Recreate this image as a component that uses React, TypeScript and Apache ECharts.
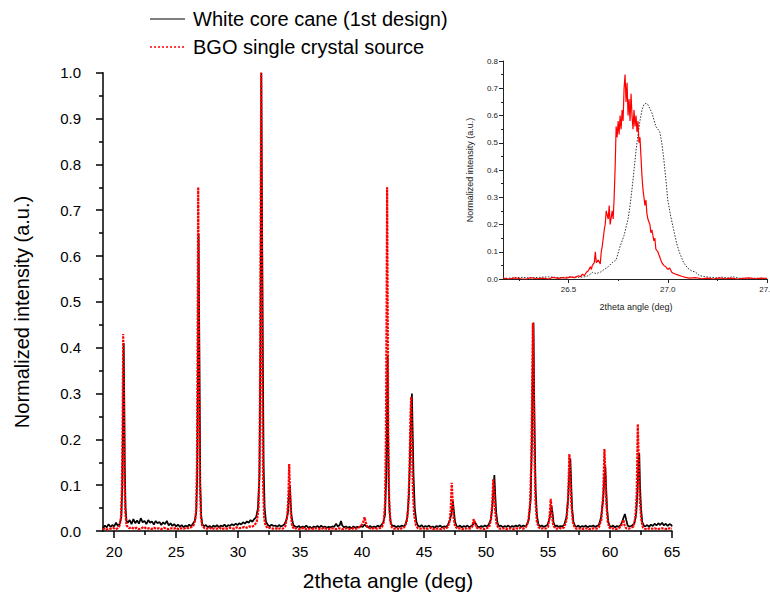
import React, { useEffect, useRef } from "react";
import * as echarts from "echarts";

const FONT = '"Liberation Sans", Arial, sans-serif';

const mainXTicks = [20, 25, 30, 35, 40, 45, 50, 55, 60, 65];
const mainXMinor = [22.5, 27.5, 32.5, 37.5, 42.5, 47.5, 52.5, 57.5, 62.5];
const insetXTicks = [26.5, 27.0, 27.5];
const insetXMinor = [26.25, 26.75, 27.25];

const legendLabels = ["White core cane (1st design)", "BGO single crystal source"];

const mainBlack: [number, number][] = [
  [19.1, 0.006], [19.25, 0.012], [19.4, 0.008], [19.55, 0.015], [19.7, 0.009], [19.85, 0.013], [20.0, 0.01], [20.15, 0.018], [20.3, 0.011], [20.45, 0.016], [20.58, 0.03],
  [20.66, 0.1], [20.72, 0.25], [20.77, 0.41], [20.82, 0.28], [20.86, 0.14], [20.92, 0.05], [21.0, 0.022],
  [21.1, 0.018], [21.25, 0.024], [21.4, 0.015], [21.55, 0.026], [21.7, 0.017], [21.85, 0.023], [22.0, 0.016], [22.15, 0.028], [22.3, 0.019], [22.45, 0.022], [22.6, 0.015], [22.75, 0.024], [22.9, 0.018], [23.05, 0.021], [23.2, 0.014], [23.35, 0.022], [23.5, 0.017], [23.65, 0.02], [23.8, 0.013], [23.95, 0.019], [24.1, 0.015], [24.25, 0.022], [24.4, 0.012], [24.55, 0.017], [24.7, 0.011], [24.85, 0.015], [25.0, 0.01], [25.15, 0.014], [25.3, 0.009], [25.45, 0.013], [25.6, 0.008], [25.75, 0.012], [25.9, 0.009], [26.05, 0.014], [26.2, 0.01], [26.35, 0.016], [26.5, 0.022], [26.62, 0.04],
  [26.7, 0.12], [26.76, 0.35], [26.81, 0.648], [26.85, 0.5], [26.9, 0.3], [26.95, 0.1], [27.02, 0.035], [27.1, 0.016],
  [27.25, 0.01], [27.4, 0.013], [27.55, 0.008], [27.7, 0.011], [27.85, 0.007], [28.0, 0.012], [28.15, 0.009], [28.3, 0.013], [28.45, 0.008], [28.6, 0.012], [28.75, 0.01], [28.9, 0.014], [29.05, 0.009], [29.2, 0.013], [29.35, 0.011], [29.5, 0.015], [29.65, 0.012], [29.8, 0.016], [29.95, 0.013], [30.1, 0.017], [30.25, 0.014], [30.4, 0.019], [30.55, 0.016], [30.7, 0.021], [30.85, 0.018], [31.0, 0.024], [31.15, 0.02], [31.3, 0.026], [31.45, 0.03], [31.6, 0.05],
  [31.72, 0.12], [31.8, 0.4], [31.87, 1.0], [31.94, 0.655], [32.0, 0.37], [32.06, 0.14], [32.14, 0.05], [32.25, 0.02],
  [32.4, 0.013], [32.55, 0.01], [32.7, 0.014], [32.85, 0.011], [33.0, 0.012], [33.15, 0.009], [33.3, 0.013], [33.45, 0.01], [33.6, 0.012], [33.75, 0.015], [33.9, 0.025],
  [34.02, 0.04], [34.1, 0.08], [34.18, 0.1], [34.24, 0.06], [34.32, 0.03], [34.45, 0.013],
  [34.6, 0.01], [34.75, 0.008], [34.9, 0.011], [35.05, 0.007], [35.2, 0.01], [35.35, 0.008], [35.5, 0.012], [35.65, 0.007], [35.8, 0.009], [35.95, 0.006], [36.1, 0.01], [36.25, 0.008], [36.4, 0.011], [36.55, 0.007], [36.7, 0.012], [36.85, 0.008], [37.0, 0.01], [37.15, 0.007], [37.3, 0.009], [37.45, 0.008], [37.6, 0.01], [37.75, 0.009], [37.9, 0.016], [38.05, 0.01], [38.2, 0.013], [38.3, 0.022], [38.4, 0.012], [38.55, 0.008], [38.7, 0.01], [38.85, 0.007], [39.0, 0.009], [39.15, 0.006], [39.3, 0.01], [39.45, 0.007], [39.6, 0.009], [39.75, 0.008], [39.9, 0.011], [40.05, 0.009], [40.2, 0.014], [40.35, 0.01], [40.5, 0.008], [40.65, 0.011], [40.8, 0.007], [40.95, 0.01], [41.1, 0.008], [41.25, 0.012], [41.4, 0.009], [41.55, 0.013], [41.7, 0.018], [41.85, 0.035],
  [41.95, 0.12], [42.01, 0.25], [42.06, 0.384], [42.1, 0.22], [42.15, 0.1], [42.22, 0.04], [42.32, 0.018],
  [42.45, 0.01], [42.6, 0.012], [42.75, 0.008], [42.9, 0.011], [43.05, 0.009], [43.2, 0.012], [43.35, 0.01], [43.5, 0.014], [43.65, 0.03],
  [43.78, 0.08], [43.88, 0.18], [43.96, 0.26], [44.02, 0.3], [44.08, 0.22], [44.15, 0.12], [44.25, 0.05], [44.38, 0.02],
  [44.5, 0.012], [44.65, 0.009], [44.8, 0.013], [44.95, 0.008], [45.1, 0.011], [45.25, 0.009], [45.4, 0.012], [45.55, 0.008], [45.7, 0.01], [45.85, 0.007], [46.0, 0.011], [46.15, 0.009], [46.3, 0.012], [46.45, 0.008], [46.6, 0.01], [46.75, 0.009], [46.9, 0.012], [47.1, 0.025],
  [47.22, 0.04], [47.33, 0.065], [47.4, 0.045], [47.5, 0.02], [47.62, 0.011],
  [47.75, 0.009], [47.9, 0.012], [48.05, 0.008], [48.2, 0.011], [48.35, 0.009], [48.5, 0.012], [48.65, 0.008], [48.8, 0.011], [48.95, 0.014], [49.07, 0.02], [49.18, 0.016], [49.3, 0.01], [49.45, 0.008], [49.6, 0.011], [49.75, 0.009], [49.9, 0.012], [50.05, 0.01], [50.2, 0.013], [50.38, 0.025],
  [50.5, 0.05], [50.6, 0.09], [50.67, 0.122], [50.74, 0.08], [50.82, 0.04], [50.92, 0.018],
  [51.05, 0.01], [51.2, 0.012], [51.35, 0.008], [51.5, 0.011], [51.65, 0.009], [51.8, 0.012], [51.95, 0.008], [52.1, 0.011], [52.25, 0.009], [52.4, 0.012], [52.55, 0.01], [52.7, 0.013], [52.85, 0.009], [53.0, 0.012], [53.15, 0.01], [53.3, 0.014], [53.45, 0.025],
  [53.6, 0.07], [53.7, 0.2], [53.78, 0.4], [53.83, 0.455], [53.88, 0.3], [53.93, 0.2], [54.0, 0.09], [54.1, 0.035], [54.22, 0.015],
  [54.35, 0.01], [54.5, 0.012], [54.65, 0.009], [54.8, 0.011], [54.95, 0.013], [55.1, 0.025], [55.2, 0.04], [55.28, 0.055], [55.36, 0.04], [55.45, 0.018], [55.58, 0.01],
  [55.7, 0.012], [55.85, 0.009], [56.0, 0.011], [56.15, 0.01], [56.3, 0.013], [56.48, 0.03],
  [56.62, 0.07], [56.72, 0.13], [56.8, 0.158], [56.86, 0.11], [56.94, 0.05], [57.05, 0.02], [57.18, 0.011],
  [57.3, 0.009], [57.45, 0.012], [57.6, 0.008], [57.75, 0.011], [57.9, 0.009], [58.05, 0.012], [58.2, 0.008], [58.35, 0.011], [58.5, 0.01], [58.65, 0.012], [58.8, 0.009], [58.95, 0.011], [59.1, 0.013], [59.28, 0.03],
  [59.45, 0.07], [59.55, 0.12], [59.62, 0.14], [59.68, 0.1], [59.76, 0.05], [59.86, 0.02], [59.98, 0.011],
  [60.1, 0.009], [60.25, 0.012], [60.4, 0.008], [60.55, 0.011], [60.7, 0.009], [60.85, 0.013], [60.98, 0.02], [61.1, 0.03], [61.2, 0.037], [61.3, 0.025], [61.42, 0.012], [61.55, 0.01],
  [61.7, 0.011], [61.85, 0.013], [62.0, 0.02], [62.12, 0.04],
  [62.22, 0.09], [62.3, 0.15], [62.36, 0.17], [62.42, 0.1], [62.5, 0.05], [62.6, 0.02], [62.72, 0.012],
  [62.85, 0.01], [63.0, 0.013], [63.15, 0.009], [63.3, 0.014], [63.45, 0.011], [63.6, 0.016], [63.75, 0.012], [63.9, 0.017], [64.05, 0.013], [64.2, 0.018], [64.35, 0.012], [64.5, 0.016], [64.65, 0.011], [64.8, 0.015], [64.95, 0.013], [65.0, 0.01],
];

const mainRed: [number, number][] = [
  [19.1, 0.004], [19.3, 0.006], [19.5, 0.003], [19.7, 0.005], [19.9, 0.007], [20.1, 0.004], [20.3, 0.006], [20.45, 0.012],
  [20.55, 0.03], [20.62, 0.09], [20.68, 0.22], [20.73, 0.43], [20.78, 0.3], [20.83, 0.12], [20.9, 0.04], [21.0, 0.012],
  [21.2, 0.006], [21.4, 0.008], [21.6, 0.005], [21.8, 0.007], [22.0, 0.004], [22.2, 0.006], [22.4, 0.009], [22.6, 0.005], [22.8, 0.006], [23.0, 0.004], [23.2, 0.007], [23.4, 0.005], [23.6, 0.006], [23.8, 0.004], [24.0, 0.007], [24.2, 0.005], [24.4, 0.004], [24.6, 0.006], [24.8, 0.005], [25.0, 0.007], [25.2, 0.004], [25.4, 0.006], [25.6, 0.005], [25.8, 0.007], [26.0, 0.006], [26.2, 0.008], [26.4, 0.012], [26.55, 0.025],
  [26.62, 0.05], [26.68, 0.15], [26.73, 0.4], [26.78, 0.75], [26.82, 0.55], [26.86, 0.3], [26.92, 0.1], [27.0, 0.03], [27.1, 0.012],
  [27.3, 0.006], [27.5, 0.005], [27.7, 0.007], [27.9, 0.004], [28.1, 0.006], [28.3, 0.005], [28.5, 0.007], [28.7, 0.004], [28.9, 0.006], [29.1, 0.005], [29.3, 0.007], [29.5, 0.006], [29.7, 0.005], [29.9, 0.008], [30.1, 0.006], [30.3, 0.007], [30.5, 0.009], [30.7, 0.007], [30.9, 0.01], [31.1, 0.009], [31.3, 0.012], [31.5, 0.02],
  [31.65, 0.05], [31.73, 0.15], [31.8, 0.5], [31.86, 1.0], [31.91, 0.7], [31.96, 0.3], [32.02, 0.1], [32.1, 0.03], [32.2, 0.012],
  [32.4, 0.006], [32.6, 0.007], [32.8, 0.005], [33.0, 0.006], [33.2, 0.004], [33.4, 0.006], [33.6, 0.005], [33.8, 0.01],
  [33.95, 0.03], [34.05, 0.07], [34.12, 0.146], [34.18, 0.09], [34.25, 0.04], [34.35, 0.012],
  [34.5, 0.005], [34.7, 0.006], [34.9, 0.004], [35.1, 0.005], [35.3, 0.007], [35.5, 0.004], [35.7, 0.005], [35.9, 0.006], [36.1, 0.004], [36.3, 0.006], [36.5, 0.005], [36.7, 0.004], [36.9, 0.007], [37.1, 0.005], [37.3, 0.004], [37.5, 0.006], [37.7, 0.005], [37.9, 0.004], [38.1, 0.006], [38.3, 0.005], [38.5, 0.004], [38.7, 0.006], [38.9, 0.005], [39.1, 0.004], [39.3, 0.006], [39.5, 0.005], [39.7, 0.007], [39.9, 0.01],
  [40.1, 0.02], [40.2, 0.03], [40.3, 0.018], [40.45, 0.008], [40.6, 0.006], [40.8, 0.005], [41.0, 0.007], [41.2, 0.005], [41.4, 0.006], [41.6, 0.008], [41.75, 0.02],
  [41.85, 0.06], [41.92, 0.2], [41.97, 0.45], [42.02, 0.75], [42.06, 0.5], [42.11, 0.22], [42.18, 0.07], [42.28, 0.02], [42.4, 0.008],
  [42.6, 0.005], [42.8, 0.006], [43.0, 0.004], [43.2, 0.006], [43.4, 0.008], [43.6, 0.02],
  [43.72, 0.05], [43.82, 0.13], [43.9, 0.25], [43.96, 0.293], [44.02, 0.2], [44.1, 0.09], [44.2, 0.035], [44.35, 0.012],
  [44.5, 0.006], [44.7, 0.005], [44.9, 0.006], [45.1, 0.004], [45.3, 0.005], [45.5, 0.007], [45.7, 0.004], [45.9, 0.006], [46.1, 0.005], [46.3, 0.004], [46.5, 0.006], [46.7, 0.005], [46.9, 0.008], [47.05, 0.02],
  [47.15, 0.045], [47.23, 0.105], [47.3, 0.07], [47.38, 0.03], [47.5, 0.01],
  [47.7, 0.005], [47.9, 0.006], [48.1, 0.004], [48.3, 0.005], [48.5, 0.006], [48.7, 0.005], [48.9, 0.01], [49.0, 0.026], [49.1, 0.018], [49.25, 0.007], [49.45, 0.005], [49.65, 0.006], [49.85, 0.004], [50.05, 0.006], [50.25, 0.008], [50.4, 0.025],
  [50.5, 0.06], [50.58, 0.113], [50.65, 0.09], [50.73, 0.045], [50.85, 0.015],
  [51.0, 0.006], [51.2, 0.005], [51.4, 0.006], [51.6, 0.004], [51.8, 0.005], [52.0, 0.006], [52.2, 0.004], [52.4, 0.006], [52.6, 0.005], [52.8, 0.007], [53.0, 0.005], [53.2, 0.008], [53.4, 0.02],
  [53.55, 0.06], [53.65, 0.15], [53.72, 0.32], [53.78, 0.454], [53.84, 0.35], [53.9, 0.18], [53.98, 0.07], [54.1, 0.02], [54.25, 0.008],
  [54.4, 0.005], [54.6, 0.006], [54.8, 0.005], [55.0, 0.009], [55.12, 0.03], [55.22, 0.07], [55.3, 0.04], [55.4, 0.015], [55.55, 0.006],
  [55.7, 0.005], [55.9, 0.007], [56.1, 0.005], [56.3, 0.008], [56.5, 0.025],
  [56.62, 0.07], [56.72, 0.168], [56.8, 0.12], [56.88, 0.06], [57.0, 0.02], [57.15, 0.007],
  [57.3, 0.005], [57.5, 0.006], [57.7, 0.004], [57.9, 0.005], [58.1, 0.006], [58.3, 0.004], [58.5, 0.005], [58.7, 0.006], [58.9, 0.005], [59.1, 0.008], [59.3, 0.025],
  [59.45, 0.08], [59.55, 0.179], [59.62, 0.13], [59.7, 0.06], [59.82, 0.02], [59.95, 0.007],
  [60.1, 0.005], [60.3, 0.006], [60.5, 0.004], [60.7, 0.006], [60.9, 0.01], [61.0, 0.02], [61.08, 0.024], [61.18, 0.012], [61.3, 0.006], [61.5, 0.005], [61.7, 0.007], [61.9, 0.01], [62.05, 0.03],
  [62.15, 0.08], [62.24, 0.233], [62.32, 0.15], [62.4, 0.07], [62.52, 0.025], [62.65, 0.008],
  [62.8, 0.005], [63.0, 0.004], [63.2, 0.006], [63.4, 0.005], [63.6, 0.006], [63.8, 0.004], [64.0, 0.005], [64.2, 0.006], [64.4, 0.005], [64.6, 0.004], [64.8, 0.006], [65.0, 0.005],
];

const insetRed: [number, number][] = [
  [26.17, 0.003], [26.2, 0.0], [26.23, 0.004], [26.26, 0.001], [26.29, 0.0], [26.31, 0.005], [26.34, 0.001], [26.37, 0.003], [26.4, 0.0], [26.42, 0.006], [26.45, 0.002], [26.47, 0.005], [26.49, 0.003], [26.51, 0.008], [26.53, 0.005], [26.55, 0.012], [26.56, 0.008], [26.57, 0.018], [26.58, 0.012], [26.59, 0.025], [26.6, 0.03], [26.61, 0.045], [26.615, 0.035], [26.62, 0.05], [26.63, 0.06], [26.635, 0.1], [26.64, 0.06], [26.65, 0.07], [26.66, 0.055], [26.665, 0.1], [26.67, 0.12], [26.68, 0.18], [26.685, 0.2], [26.69, 0.25], [26.7, 0.22], [26.705, 0.27], [26.71, 0.2], [26.72, 0.25], [26.725, 0.22], [26.73, 0.3], [26.735, 0.41], [26.74, 0.56], [26.745, 0.52], [26.75, 0.58], [26.755, 0.53], [26.76, 0.6], [26.765, 0.55], [26.77, 0.62], [26.775, 0.58], [26.78, 0.7], [26.785, 0.75], [26.79, 0.65], [26.795, 0.72], [26.8, 0.6], [26.805, 0.66], [26.81, 0.58], [26.815, 0.68], [26.82, 0.6], [26.825, 0.55], [26.83, 0.62], [26.835, 0.56], [26.84, 0.6], [26.845, 0.54], [26.85, 0.58], [26.855, 0.5], [26.86, 0.52], [26.865, 0.45], [26.87, 0.38], [26.875, 0.33], [26.88, 0.3], [26.885, 0.27], [26.89, 0.29], [26.895, 0.24], [26.9, 0.22], [26.91, 0.2], [26.915, 0.17], [26.92, 0.18], [26.93, 0.14], [26.935, 0.15], [26.94, 0.11], [26.95, 0.1], [26.96, 0.08], [26.97, 0.06], [26.98, 0.05], [26.99, 0.045], [27.0, 0.035], [27.01, 0.04], [27.02, 0.025], [27.03, 0.02], [27.05, 0.015], [27.07, 0.01], [27.09, 0.006], [27.11, 0.003], [27.14, 0.005], [27.17, 0.001], [27.2, 0.003], [27.23, 0.0], [27.26, 0.004], [27.29, 0.001], [27.32, 0.003], [27.35, 0.0], [27.38, 0.002], [27.41, 0.004], [27.44, 0.001], [27.47, 0.003], [27.5, 0.002],
];

const insetBlack: [number, number][] = [
  [26.17, 0.002], [26.22, 0.004], [26.27, 0.006], [26.3, 0.004], [26.35, 0.006], [26.4, 0.008], [26.45, 0.005], [26.5, 0.007], [26.55, 0.006], [26.58, 0.008], [26.6, 0.012], [26.62, 0.024], [26.64, 0.02], [26.66, 0.025], [26.68, 0.035], [26.7, 0.045], [26.72, 0.06], [26.74, 0.07], [26.76, 0.12], [26.78, 0.16], [26.8, 0.22], [26.81, 0.27], [26.82, 0.33], [26.83, 0.4], [26.84, 0.47], [26.85, 0.53], [26.86, 0.58], [26.87, 0.62], [26.88, 0.64], [26.89, 0.645], [26.9, 0.64], [26.91, 0.625], [26.92, 0.61], [26.93, 0.585], [26.94, 0.56], [26.95, 0.55], [26.96, 0.54], [26.97, 0.5], [26.98, 0.44], [26.99, 0.37], [27.0, 0.29], [27.015, 0.23], [27.03, 0.18], [27.045, 0.13], [27.06, 0.095], [27.08, 0.06], [27.1, 0.04], [27.12, 0.03], [27.14, 0.025], [27.16, 0.012], [27.19, 0.008], [27.22, 0.006], [27.25, 0.004], [27.27, 0.007], [27.3, 0.004], [27.33, 0.008], [27.36, 0.003], [27.4, 0.002], [27.44, 0.003], [27.5, 0.002],
];

export default function App() {
  const ref = useRef<HTMLDivElement>(null);
  useEffect(() => {
    const chart = echarts.init(ref.current!, null, { renderer: "svg" });
    const axisColor = "#000";
    const noSplit = {
      splitLine: { show: false },
      minorSplitLine: { show: false },
    };
    const option: any = {
      animation: false,
      backgroundColor: "#fff",
      grid: [
        { left: 103, top: 72.7, width: 569, height: 458.3, outerBoundsMode: "none", containLabel: false },
        { left: 503, top: 61, width: 264, height: 218, outerBoundsMode: "none", containLabel: false },
      ],
      xAxis: [
        {
          gridIndex: 0, type: "value", min: 19.1, max: 65, position: "bottom",
          axisLine: { show: true, onZero: false, lineStyle: { color: axisColor, width: 1.5 } },
          axisTick: { show: true, customValues: mainXTicks, length: 7, lineStyle: { color: axisColor, width: 1.5 } },
          axisLabel: { customValues: mainXTicks, fontSize: 15, color: "#000", fontFamily: FONT, margin: 13 },
          ...noSplit,
        },
        {
          gridIndex: 0, type: "value", min: 19.1, max: 65, position: "bottom",
          axisLine: { show: false },
          axisTick: { show: true, customValues: mainXMinor, length: 4, lineStyle: { color: axisColor, width: 1.5 } },
          axisLabel: { show: false },
          ...noSplit,
        },
        {
          gridIndex: 1, type: "value", min: 26.17, max: 27.5, position: "bottom",
          axisLine: { show: true, onZero: false, lineStyle: { color: "#222", width: 1 } },
          axisTick: { show: true, customValues: insetXTicks, length: 4, lineStyle: { color: "#222", width: 1 } },
          axisLabel: { customValues: insetXTicks, fontSize: 8, color: "#222", fontFamily: FONT, margin: 6, formatter: (v: number) => v.toFixed(1) },
          ...noSplit,
        },
        {
          gridIndex: 1, type: "value", min: 26.17, max: 27.5, position: "bottom",
          axisLine: { show: false },
          axisTick: { show: true, customValues: insetXMinor, length: 2, lineStyle: { color: "#222", width: 1 } },
          axisLabel: { show: false },
          ...noSplit,
        },
      ],
      yAxis: [
        {
          gridIndex: 0, type: "value", min: 0, max: 1, interval: 0.1,
          axisLine: { show: true, onZero: false, lineStyle: { color: axisColor, width: 1.5 } },
          axisTick: { show: true, length: 7, lineStyle: { color: axisColor, width: 1.5 } },
          minorTick: { show: true, splitNumber: 2, length: 4, lineStyle: { color: axisColor, width: 1.5 } },
          axisLabel: { fontSize: 15, color: "#000", fontFamily: FONT, margin: 22, formatter: (v: number) => v.toFixed(1) },
          ...noSplit,
        },
        {
          gridIndex: 1, type: "value", min: 0, max: 0.8, interval: 0.1,
          axisLine: { show: true, onZero: false, lineStyle: { color: "#222", width: 1 } },
          axisTick: { show: true, length: 4, lineStyle: { color: "#222", width: 1 } },
          minorTick: { show: true, splitNumber: 2, length: 2, lineStyle: { color: "#222", width: 1 } },
          axisLabel: { fontSize: 8, color: "#222", fontFamily: FONT, margin: 5, formatter: (v: number) => v.toFixed(1) },
          ...noSplit,
        },
      ],
      series: [
        {
          name: legendLabels[0], type: "line", xAxisIndex: 0, yAxisIndex: 0, data: mainBlack,
          symbol: "none", lineStyle: { color: "#000", width: 1.7 }, z: 2,
        },
        {
          name: legendLabels[1], type: "line", xAxisIndex: 0, yAxisIndex: 0, data: mainRed,
          symbol: "none", lineStyle: { color: "#ff0000", width: 2.2, type: [2.5, 1] }, z: 3,
        },
        {
          name: "inset-black", type: "line", xAxisIndex: 2, yAxisIndex: 1, data: insetBlack,
          symbol: "none", lineStyle: { color: "#333", width: 1, type: [1.5, 1.5] }, z: 2,
        },
        {
          name: "inset-red", type: "line", xAxisIndex: 2, yAxisIndex: 1, data: insetRed,
          symbol: "none", lineStyle: { color: "#ff0000", width: 1.2 }, z: 3,
        },
      ],
      graphic: [
        { type: "line", shape: { x1: 150, y1: 19, x2: 185, y2: 19 }, style: { stroke: "#000", lineWidth: 1 } },
        { type: "text", x: 193, y: 19, style: { text: legendLabels[0], font: `20px ${FONT}`, fill: "#000", verticalAlign: "middle", align: "left" } },
        { type: "line", shape: { x1: 150, y1: 47, x2: 185, y2: 47 }, style: { stroke: "#ff0000", lineWidth: 1.5, lineDash: [2, 2] } },
        { type: "text", x: 193, y: 47, style: { text: legendLabels[1], font: `20px ${FONT}`, fill: "#000", verticalAlign: "middle", align: "left" } },
        { type: "text", x: 388, y: 580, style: { text: "2theta angle (deg)", font: `21px ${FONT}`, fill: "#000", verticalAlign: "middle", align: "center" } },
        { type: "text", x: 22, y: 312, rotation: Math.PI / 2, style: { text: "Normalized intensity (a.u.)", font: `20px ${FONT}`, fill: "#000", verticalAlign: "middle", align: "center" } },
        { type: "text", x: 636, y: 307, style: { text: "2theta angle (deg)", font: `9px ${FONT}`, fill: "#222", verticalAlign: "middle", align: "center" } },
        { type: "text", x: 470, y: 170, rotation: Math.PI / 2, style: { text: "Normalized intensity (a.u.)", font: `9px ${FONT}`, fill: "#222", verticalAlign: "middle", align: "center" } },
      ],
    };
    chart.setOption(option);
    return () => chart.dispose();
  }, []);
  return (
    <div
      ref={ref}
      style={{ position: "absolute", left: 0, top: 0, width: 770, height: 600, background: "#fff" }}
    />
  );
}
